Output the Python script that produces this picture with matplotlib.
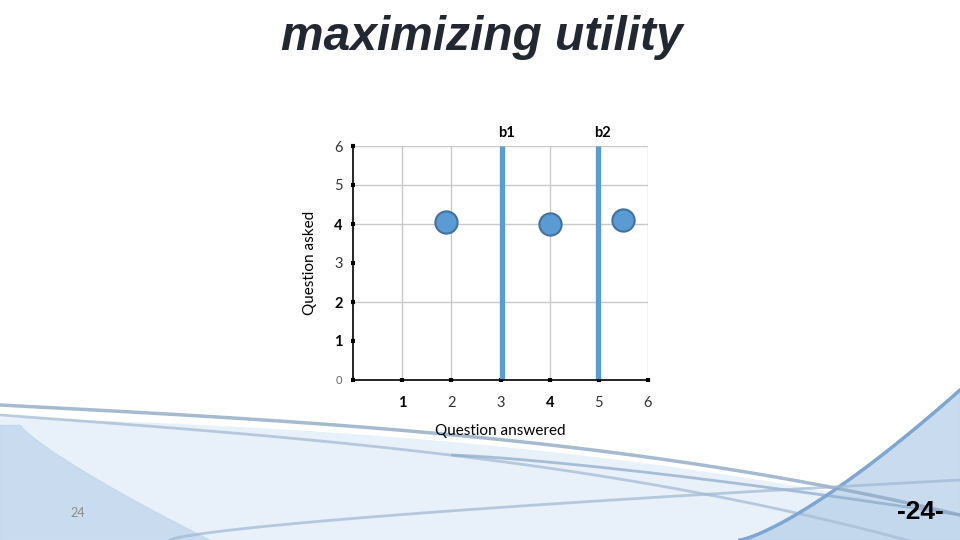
import numpy as np
import matplotlib.pyplot as plt
from matplotlib.patches import Rectangle

# data
points_x = [1.9, 4.0, 5.5]
points_y = [4.05, 4.0, 4.1]
bound_x = [3.03, 4.98]
bound_labels = ["b1", "b2"]
x_ticks = [1, 2, 3, 4, 5, 6]
y_ticks = [0, 1, 2, 3, 4, 5, 6]
y_grid = [2, 4, 5, 6]
bold_x = [1, 4]
bold_y = [1, 2, 4]

W, H = 960, 540
fig = plt.figure(figsize=(9.6, 5.4), dpi=100)
fig.patch.set_facecolor("white")

# slide background with blue swooshes
bg = fig.add_axes([0, 0, 1, 1])
bg.set_xlim(0, W)
bg.set_ylim(H, 0)
bg.axis("off")

xs = np.linspace(0, W, 300)
top = 418 + 30 * (xs / W) + 70 * (xs / W) ** 2.5
bg.fill_between(xs, top, H, color="#e8f0f9", zorder=0)
# bluer wedge bottom-left
wy = np.linspace(425, H, 100)
wx = 20 + 190 * ((wy - 425) / 115) ** 1.2
bg.fill_betweenx(wy, 0, wx, color="#c3d8ee", alpha=0.85, zorder=1)
# stripes
bg.plot(xs, 405 + 25 * (xs / 480) + 60 * (xs / W) ** 3, color="#8fa9c4", lw=2.5, alpha=0.8, zorder=2)
bg.plot(xs, 415 + 35 * (xs / 480) + 70 * (xs / W) ** 3, color="#a9bfd6", lw=2, alpha=0.8, zorder=2)
sx = xs[xs > 450]
bg.plot(sx, 455 + 60 * ((sx - 450) / 510) ** 1.3, color="#8aa8c8", lw=2, alpha=0.7, zorder=2)
rx = np.linspace(740, W, 100)
ry = 540 - 150 * ((rx - 740) / 220) ** 1.3
bg.fill_between(rx, ry, H, color="#bcd3eb", alpha=0.8, zorder=1)
bg.plot(rx, ry, color="#7ea6d0", lw=2.5, zorder=2)
bx = np.linspace(170, W, 200)
bg.plot(bx, 540 - 60 * ((bx - 170) / 790) ** 0.7, color="#9fb8d2", lw=2, alpha=0.7, zorder=2)
bg.add_patch(Rectangle((315, 123), 350, 287, facecolor="white", edgecolor="none", zorder=3))

# title
fig.text(482, H - 38, "maximizing utility", transform=None, ha="center", va="center",
         fontsize=34.5, fontweight="bold", style="italic", color="#222831",
         family="Liberation Sans")
fig.text(78 / W, 1 - 513 / H, "24", ha="center", va="center", fontsize=9,
         color="#8c8c8c", family="Lato")
fig.text(920 / W, 1 - 512 / H, "-24-", ha="center", va="center", fontsize=19,
         fontweight="bold", color="black", family=["Liberation Sans Narrow", "Liberation Sans"])

# chart
ax = fig.add_axes([353 / W, 1 - 380 / H, 295 / W, 234 / H])
ax.set_xlim(0, 6)
ax.set_ylim(0, 6)
ax.set_facecolor("none")
for v in x_ticks:
    ax.axvline(v, color="#c8c8c8", lw=1, zorder=0)
for v in y_grid:
    ax.axhline(v, color="#c8c8c8", lw=1, zorder=0)

for bx_, lab in zip(bound_x, bound_labels):
    ax.vlines(bx_, 0, 6, color="#5b9bd5", lw=3.8, zorder=2)
    ax.text(bx_ + 0.1, 6.33, lab, ha="center", va="center", fontsize=10.5,
            fontweight="bold", family="Lato", clip_on=False)

ax.plot(points_x, points_y, "o", ms=16, mfc="#5b9bd5", mec="#41719c", mew=1.5, zorder=3)

for s in ["top", "right"]:
    ax.spines[s].set_visible(False)
for s in ["left", "bottom"]:
    ax.spines[s].set_color("black")
    ax.spines[s].set_linewidth(1.2)
ax.set_xticks(x_ticks)
ax.set_yticks(y_ticks)
ax.tick_params(direction="inout", length=3, width=3, color="black")
ax.tick_params(axis="x", pad=10)
ax.tick_params(axis="y", pad=6)
ax.set_xticklabels([str(v) for v in x_ticks], family="Lato", fontsize=10.5)
ax.set_yticklabels([str(v) for v in y_ticks], family="Lato", fontsize=10.5)
for lab, v in zip(ax.get_xticklabels(), x_ticks):
    lab.set_fontweight("bold" if v in bold_x else "normal")
    lab.set_color("black" if v in bold_x else "#333333")
for lab, v in zip(ax.get_yticklabels(), y_ticks):
    lab.set_fontweight("bold" if v in bold_y else "normal")
    lab.set_color("black" if v in bold_y else "#333333")
    if v == 0:
        lab.set_fontsize(8)
        lab.set_color("#666666")
ax.set_xlabel("Question answered", family="Lato", fontsize=11, labelpad=10)
ax.set_ylabel("Question asked", family="Lato", fontsize=11, labelpad=12)

fig.savefig("out.png", dpi=100)
